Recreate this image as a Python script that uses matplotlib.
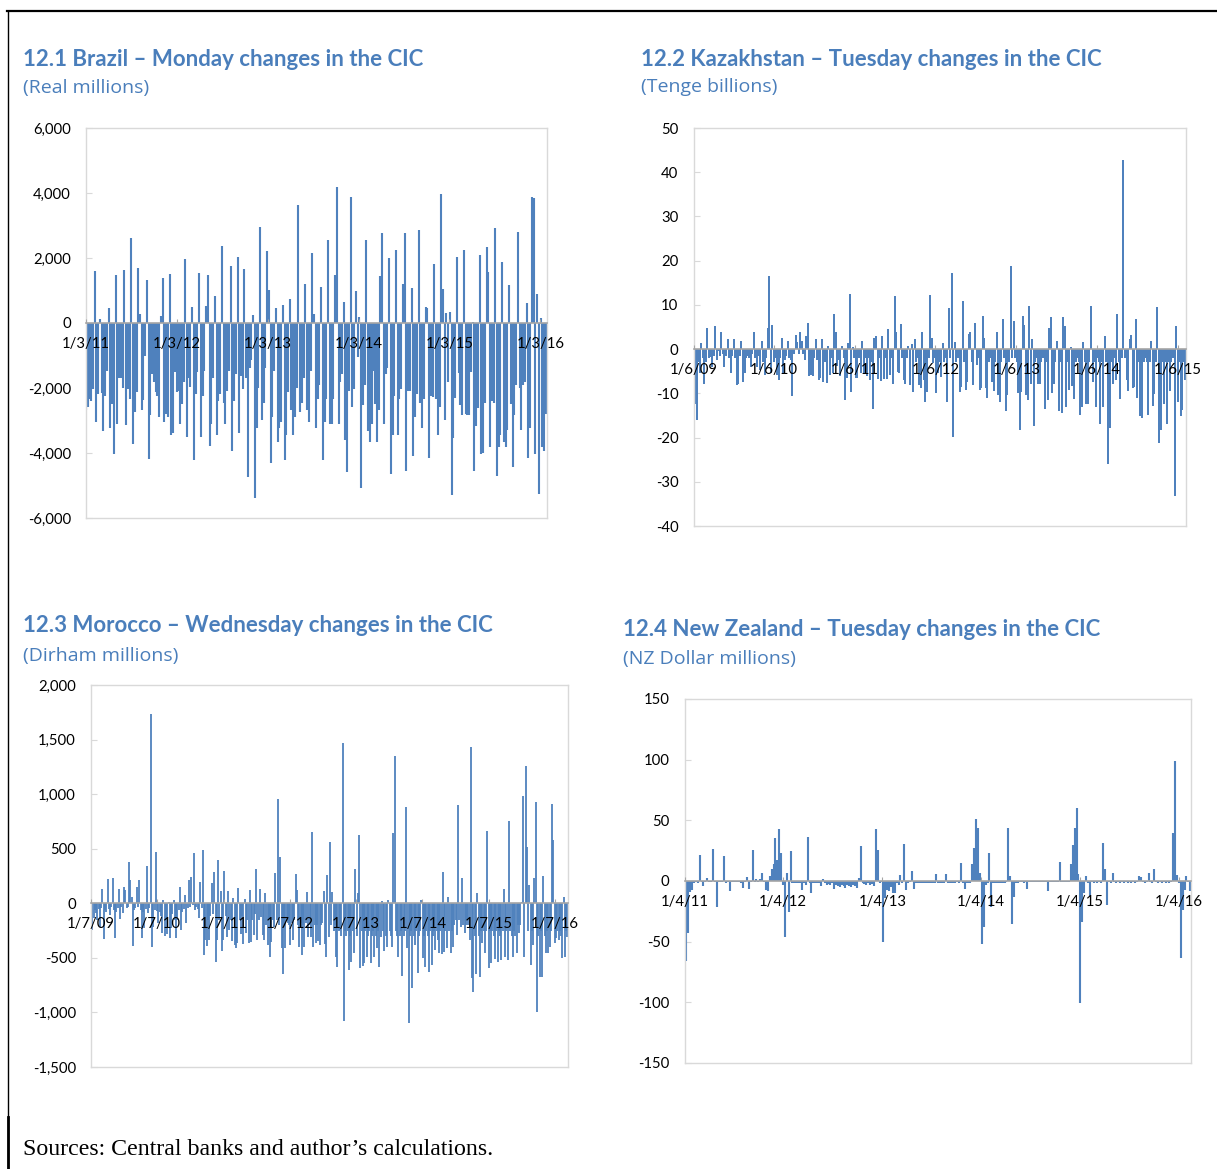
import numpy as np
import pandas as pd
import matplotlib
matplotlib.use("Agg")
import matplotlib.pyplot as plt
import matplotlib.dates as mdates
from matplotlib.lines import Line2D
from matplotlib.ticker import FuncFormatter, MultipleLocator

# ---------------------------------------------------------------- data
# Weekly changes in currency in circulation (one value per week)
brazil_start = "2011-01-03"   # Mondays
brazil_values = [
    -2680, -2570, -2350, -2400, -2020, 1600, -3060, -2190, 130, -2150,
    -3330, -2240, -1480, 470, -3220, -2500, -4040, 1470, -3110, -1690,
    -1700, -2000, 1640, -3150, -2020, -2350, 2615, -3720, -2730, -2130,
    1700, 270, -2680, -2370, -1000, 1310, -4190, -2840, -1580, -1800,
    -2130, -2240, -2900, 230, 1400, -3060, -2790, -2900, 1500, -3440,
    -3390, -1500, -2130, -2080, -3110, -2500, -1800, 1970, -3500, -1700,
    -1960, 480, -4210, -2190, -1500, 1540, -3500, -2240, -1480, 530,
    1470, -3770, -3110, -1690, 820, -3440, -2400, -2190, 2360, -2460,
    -3110, -2080, -1480, 1760, -3930, -2400, -1580, 2040, -3390, -1640,
    -2020, 1660, -1690, -4750, -1370, -1150, 260, -5390, -3220, -2000,
    2960, -3000, -2460, -1370, 2210, 1020, -4320, -2900, -1480, 460,
    -3660, -3220, -3060, 540, -4210, -3440, -2130, 740, -2680, -3440,
    -2900, -2000, 3630, -2730, -2460, -1690, 1200, -2680, -3060, -1470,
    2150, 270, -3220, -2350, -1910, 1110, -4210, -3060, -2350, 2540,
    -3110, -3110, -2350, 1480, 4190, -3110, -1800, -1580, 650, -3610,
    -4590, -2080, 3890, -2570, -2020, 980, -1040, 200, -5080, -2510,
    -1910, 2550, -3330, -3660, -3110, -1480, -2500, -3660, -2680, 1460,
    2780, -3110, -1580, -1370, 2010, -4650, -3440, -2240, 2260, -3440,
    -2350, -2020, 1210, 2760, -4540, -2080, -2080, 1090, -4100, -2900,
    -2190, 2860, -2460, -3220, -2350, 490, 470, -4150, -2240, -2290,
    1810, -2350, -3440, -2570, 3960, 1040, -3000, 300, -1800, 350,
    -5300, -3550, -2300, 2020, -1530, -2520, -2840, 2260, -2800, -2840,
    -2840, -1500, 20, -4540, -3170, -2620, 2080, -4040, -3990, -2460,
    2340, 1570, -3820, -2400, -2460, 2930, -4700, -3820, -3440, 1890,
    -3660, -3820, -3280, 1180, -2500, -4430, -2840, -1910, 2790, -2000,
    -3280, -1910, -1800, 615, -4150, -3220, 3890, 3840, -4040, 890,
    -5250, 165, -3820, -3930, -2790,
]
brazil_tick_dates = ["2011-01-03", "2012-01-03", "2013-01-03",
                     "2014-01-03", "2015-01-03", "2016-01-03"]
brazil_tick_labels = ["1/3/11", "1/3/12", "1/3/13", "1/3/14", "1/3/15", "1/3/16"]

kazakhstan_start = "2009-01-06"   # Tuesdays
kazakhstan_values = [
    -3, -12.3, -16.1, -3, -5.5, 1.3, -2, -7.8, -3, 4.7,
    -2, -1.7, -4, -1.5, 5.3, -2.5, -0.5, -1.5, 3.8, -1,
    -4, -1.5, 2.3, -2, -5.5, -1.5, 2.3, -2, -8.1, -7.8,
    -1.5, 1.9, -7.5, -5.5, -2, -1.5, -2, -4, -1, 3.8,
    -2, -4, -1.5, -4.8, 1.9, -2.9, -5.9, -2, 4.7, 16.5,
    -5.5, 5.4, -3, -2, -5.9, -6.9, -2, 2.6, -5.5, -2.5,
    -1.5, 1.9, -2, -2.5, -10.6, -1, 3.2, 1.7, -1, 3.8,
    1.9, -1, -2.5, 3.0, 5.8, -6.1, -5.9, -6.1, -2, 2.2,
    -2.5, -7, -6.6, 2.2, -7.4, -3, -7.6, 0.8, -5.9, -2,
    -5.5, 7.9, 3.8, -3.8, -2.5, -6.1, 0.6, -2, -11.5, -6.6,
    1.4, 12.4, -9.8, 0.5, -1.9, -6.6, -6.6, -2, -5.5, 1.9,
    -5.4, -2, -6.1, -2, -7, -3, -13.6, 2.6, 3.0, -6.8,
    -2, -7.2, 3.0, -6.8, -2, -6.8, 4.5, -5.9, -2, -7.8,
    12.1, 3.8, -5.1, -5.3, 5.7, -2, -7, -7.8, -2, 0.8,
    -8.1, 1.1, -9.7, 2.2, -3, -2, -8.1, -8.9, 3.8, -7,
    -11.9, -9.7, -2, 12.3, 2.6, -3.2, -2, -10, -5.5, -3,
    -6.3, 1.4, -3, -2, -11.9, 9.2, -2, 17.1, -19.8, 1.7,
    -3, -2, -9.7, -8.5, 10.9, -3, -9.3, -7.4, 3.4, 3.8,
    -3, -8.1, 5.8, -3.6, -2, -9.3, -8.9, 7.5, 2.4, -8.9,
    -11, -3, -2, -7.4, -9.4, -3, 3.8, -10.4, -11.9, -3,
    6.8, -2, -14, -10.4, -3, 18.8, -2, 6.4, -2, -3,
    -10, -18.2, -9.8, 7.5, 5.4, -10.4, -11.5, 9.8, -7.8, 2.2,
    -17.4, -3, -2, -7.8, -7.9, -3, -2, -13.6, -3, -11.4,
    4.8, 7.2, -9.9, -7.8, -3, 1.9, -14.1, -3, -14.5, 7.2,
    5.2, -13.2, -3, -9.3, 0.5, -8.3, -11.2, -3, -2, -3,
    -14.9, -13, 1.7, -3, -12.4, -12.4, -3, 9.8, -7.5, -3,
    -13, -2, -3, -17, -3, -13, 3.0, -3, -25.9, -17.9,
    -3, -8, -2, -7, 7.9, -3, -11.2, -2, 42.8, -2,
    -7, -9.4, 2.3, 3.3, -8.7, -8.5, 6.7, -11, -3, -15.2,
    -15.6, -3, -2, -3, -14.9, -3, 1.9, -12.9, -10.2, -3,
    9.6, -21.2, -18.3, -3, -12.4, -3, -17, -3, -9.5, -3,
    -2, -33.3, 5.2, -11.9, -3, -15.2, -13.8, -3, -7,
]
kazakhstan_tick_dates = ["2009-01-06", "2010-01-06", "2011-01-06", "2012-01-06",
                         "2013-01-06", "2014-01-06", "2015-01-06"]
kazakhstan_tick_labels = ["1/6/09", "1/6/10", "1/6/11", "1/6/12",
                          "1/6/13", "1/6/14", "1/6/15"]

morocco_start = "2009-01-07"   # Wednesdays
morocco_values = [
    -120, -244, -137, -60, -90, -153, -50, -214, -40, 131,
    -330, -60, -80, 220, -50, -107, -30, 235, -60, -321,
    -82, -40, 131, -147, -30, -92, 153, 122, -40, -30,
    376, 214, 61, -391, -61, -40, 147, -30, 214, -60,
    -321, -80, -229, -50, 342, -92, -40, 1731, -403, -214,
    -60, 473, -70, -183, -80, -120, -269, 31, -299, -150,
    -281, 12, -321, -229, -100, 31, -150, -321, -153, -60,
    147, -244, -80, -50, 76, -183, -40, 214, -30, 238,
    -20, 458, -60, -30, -50, -137, 192, -40, 488, -473,
    -336, -391, -150, -336, -120, 183, -100, 290, -534, -336,
    397, -150, 116, -434, -336, 299, -120, -305, 116, -244,
    -150, -342, 46, -382, -412, -366, 137, -150, -281, -120,
    -372, 43, -275, -150, -366, 122, -351, -150, -290, -100,
    318, -336, -150, 131, -128, -290, -336, 92, -200, -382,
    -150, -488, -351, -150, -214, 275, -150, 953, -200, 427,
    -412, -647, -200, -406, -150, -183, -200, -382, -180, -336,
    -150, 269, 122, -200, -397, -180, -473, -200, -397, -180,
    107, -305, -200, -305, 656, -397, -200, -366, -200, -342,
    -382, -200, -180, 116, -375, -488, 260, -311, 565, -200,
    107, -250, -200, -488, -580, -250, -244, -300, 1465, -1078,
    -250, -300, -250, -611, -300, -534, -250, -458, 311, -300,
    98, 626, -589, -250, -574, -550, -250, -488, -300, -250,
    -550, -300, -250, -488, -300, -412, -250, -580, -305, 21,
    -250, -434, -300, -397, 31, -250, -300, -397, 641, 1349,
    -250, -300, -488, -300, -250, -666, -300, -250, 885, -412,
    -1099, -300, -250, -779, -300, -382, -250, -641, -300, -250,
    31, -504, -300, -580, -250, -300, -626, -250, -565, -300,
    -250, -427, -250, -336, -452, -250, -464, 290, -443, -250,
    -412, 61, -250, -458, -250, -397, -200, -150, -290, 904,
    -150, -214, 229, -200, -275, -200, -150, -200, -336, 1429,
    -687, -809, -300, -647, 98, -300, -672, -250, -366, -250,
    -458, -250, 666, -595, -250, -550, -250, -300, -513, -250,
    -534, -250, -300, -519, -250, 128, -488, -250, -519, 754,
    -250, -300, -488, -250, -300, -458, -200, -275, -200, 15,
    983, -488, 1261, 519, -250, 168, -565, -250, -382, 229,
    931, -992, -300, -672, -250, -672, 250, -300, -458, -250,
    -458, -397, -250, 907, 580, -366, -321, -250, -336, -250,
    -300, -497, 55, -488, -250, -305,
]
morocco_tick_dates = ["2009-01-07", "2010-01-07", "2011-01-07", "2012-01-07",
                      "2013-01-07", "2014-01-07", "2015-01-07", "2016-01-07"]
morocco_tick_labels = ["1/7/09", "1/7/10", "1/7/11", "1/7/12",
                       "1/7/13", "1/7/14", "1/7/15", "1/7/16"]

nz_start = "2011-01-04"   # Tuesdays
nz_values = [
    -10, -65.7, -43.1, -8.8, -7.4, -2, -1, -1.5, 21.4, -1,
    -3.8, -1, 2.2, -1, -0.5, 26.4, -1, -21.2, -1, -0.5,
    -1, 20.6, -1.5, -1, -8.2, -1, -0.5, -1, -0.5, -1,
    -1.5, -6, -1, 3, -6.9, -1, 25.5, -1, 1.4, -1,
    2, 6.9, -1, -7.4, -8.2, 4, 9.6, 13.7, 35.7, 17.3,
    43.1, 22.8, -3, -45.9, 6.9, -25.3, 24.7, -2, -2, -1.5,
    -2, -2, -7.4, -2, -3.3, 36.5, -2, -10.2, -2, -1.5,
    -2, -1.5, -4.1, 1.9, -2, -3, -2.5, -3, -2, -6.9,
    -3, -4, -5, -3, -4, -5.5, -3, -4, -5, -3,
    -4.5, -5.5, 2.2, 29.1, -2, -2.5, -3, -2, -3.5, -2.5,
    -4.1, 42.6, 25.5, -2, -1, -50, -14.3, -7.4, -8, -5,
    -9.6, -10.2, -2, -3.3, 4.9, -2, 30.5, -7.4, -2, -1,
    8.5, -6.3, -2, -1.5, -2, -1.5, -2, -2, -1.5, -2,
    -2, -1.5, -2, 5.5, -1.5, -2, -1.5, -2, 5.8, -1.5,
    -2, -1.5, -2, -1.5, -1, -2, 15.1, -2, -6.3, -2,
    -1.5, -2, 13.7, 26.9, 50.8, 43.4, 6.3, -51.9, -37.6, -3,
    -2, 22.8, -21.7, -2, -1.5, -2, -1.5, -1.5, -2, -1.5,
    -1, 44, 4.1, -35.4, -12.9, -2, -1.5, -1, -1, -1.5,
    -1, -6.9, -1, -1, -0.5, -1, -0.5, -1, -0.5, -1,
    -1, -1, -8.2, -1, -0.5, -1, -0.5, -1, 15.9, -0.5,
    -1, -0.5, -1, -0.5, 13.7, 29.7, 44, 59.9, 5.8, -100.8,
    -33.5, -10.2, 4.1, -2, -12.4, -1, -1.5, -1, -1.5, -1,
    -1.5, 31.6, 9.6, -19.8, -1, -1.5, 6.9, -1, -1.5, -1,
    -1.5, -1, -1.5, -1, -1.5, -1, -1.5, -1, -1.5, -1,
    4.4, 3.6, -1, -1.5, -1, 6.3, -1, -1.5, 9.6, -1,
    -1.5, -1, -1.5, -1, -1.5, -1, -1.5, -1, 39.8, 99.2,
    4.9, -2, -63.7, -23.9, -7.4, 4.4, -1, -8,
]
nz_tick_dates = ["2011-01-04", "2012-01-04", "2013-01-04",
                 "2014-01-04", "2015-01-04", "2016-01-04"]
nz_tick_labels = ["1/4/11", "1/4/12", "1/4/13", "1/4/14", "1/4/15", "1/4/16"]

# ---------------------------------------------------------------- styling
W, H = 1217, 1169
BLUE = "#4F81BD"
TITLE_BLUE = "#4A7EBB"
FRAME_GREY = "#D9D9D9"
ZERO_GREY = "#A6A6A6"
TICK_FONT = "Lato"
TICK_SIZE = 10.7

fig = plt.figure(figsize=(W / 100, H / 100), dpi=100)
fig.patch.set_facecolor("white")


def px_axes(x0, y0, x1, y1):
    return fig.add_axes([x0 / W, 1 - y1 / H, (x1 - x0) / W, (y1 - y0) / H])


def comma_fmt(v, _):
    return f"{int(round(v)):,}"


def plain_fmt(v, _):
    return f"{int(round(v))}"


def panel(box, start, values, ylim, ystep, tick_dates, tick_labels,
          fmt, stroke_px, end_pad):
    ax = px_axes(*box)
    dates = pd.date_range(start, periods=len(values), freq="7D")
    x = mdates.date2num(dates.to_pydatetime())
    # one thin column per week, rising or falling from zero
    ax.vlines(x, 0, values, colors=BLUE, linewidth=stroke_px * 0.72,
              capstyle="butt", zorder=2)
    ax.set_xlim(x[0], x[-1] + end_pad)
    ax.set_ylim(*ylim)
    ax.set_xticks([])
    ax.yaxis.set_major_locator(MultipleLocator(ystep))
    ax.yaxis.set_major_formatter(FuncFormatter(fmt))
    ax.tick_params(axis="y", direction="in", length=4, width=0.8,
                   color=FRAME_GREY, pad=10.8, labelsize=TICK_SIZE)
    for lab in ax.get_yticklabels():
        lab.set_fontfamily(TICK_FONT)
    for sp in ax.spines.values():
        sp.set_color(FRAME_GREY)
        sp.set_linewidth(1.0)

    # category axis crossing at zero, labels hanging below it
    frac = (0 - ylim[0]) / (ylim[1] - ylim[0])
    sec = ax.secondary_xaxis(frac)
    sec.set_alignment("bottom")
    sec.set_zorder(3)
    tx = mdates.date2num(pd.to_datetime(tick_dates).to_pydatetime())
    sec.set_xticks(tx, tick_labels)
    sec.tick_params(axis="x", direction="in", length=3, width=0.8,
                    color=ZERO_GREY, pad=10.0, labelsize=TICK_SIZE)
    for lab in sec.get_xticklabels():
        lab.set_fontfamily(TICK_FONT)
    sec.spines["bottom"].set_color(ZERO_GREY)
    sec.spines["bottom"].set_linewidth(1.2)
    return ax


panel((86, 128, 546.5, 518), brazil_start, brazil_values, (-6000, 6000), 2000,
      brazil_tick_dates, brazil_tick_labels, comma_fmt, 2.1, 3)
panel((693.5, 128, 1186, 526), kazakhstan_start, kazakhstan_values, (-40, 50), 10,
      kazakhstan_tick_dates, kazakhstan_tick_labels, plain_fmt, 2.0, 3)
panel((91, 685, 568, 1067), morocco_start, morocco_values, (-1500, 2000), 500,
      morocco_tick_dates, morocco_tick_labels, comma_fmt, 1.8, 3)
panel((684.5, 699, 1191, 1063), nz_start, nz_values, (-150, 150), 50,
      nz_tick_dates, nz_tick_labels, plain_fmt, 2.1, 3)

# ---------------------------------------------------------------- titles
titles = [
    (23, 65.5, 92.5, "12.1 Brazil \u2013 Monday changes in the CIC", "(Real millions)"),
    (641, 65.5, 92.5, "12.2 Kazakhstan \u2013 Tuesday changes in the CIC", "(Tenge billions)"),
    (23, 632.5, 661, "12.3 Morocco \u2013 Wednesday changes in the CIC", "(Dirham millions)"),
    (623, 636, 664, "12.4 New Zealand \u2013 Tuesday changes in the CIC", "(NZ Dollar millions)"),
]
for tx, ty, sy, title, sub in titles:
    fig.text(tx / W, 1 - ty / H, title, fontsize=16.0, fontweight="bold",
             family="Lato", color=TITLE_BLUE, va="baseline", ha="left")
    fig.text(tx / W, 1 - sy / H, sub, fontsize=14.0, family="Open Sans",
             color=TITLE_BLUE, va="baseline", ha="left")

fig.text(23 / W, 1 - 1155 / H, "Sources: Central banks and author\u2019s calculations.",
         fontsize=17.2, family="Liberation Serif", color="black",
         va="baseline", ha="left")

# page frame
fig.add_artist(Line2D([7 / W, 1], [1 - 10.5 / H, 1 - 10.5 / H],
                      color="black", linewidth=1.6))
fig.add_artist(Line2D([7.5 / W, 7.5 / W], [0, 1 - 10.5 / H],
                      color="black", linewidth=1.0))
fig.add_artist(Line2D([7.5 / W, 7.5 / W], [0, 1 - 1117 / H],
                      color="black", linewidth=2.0))

fig.savefig("out.png", dpi=100, facecolor="white")
